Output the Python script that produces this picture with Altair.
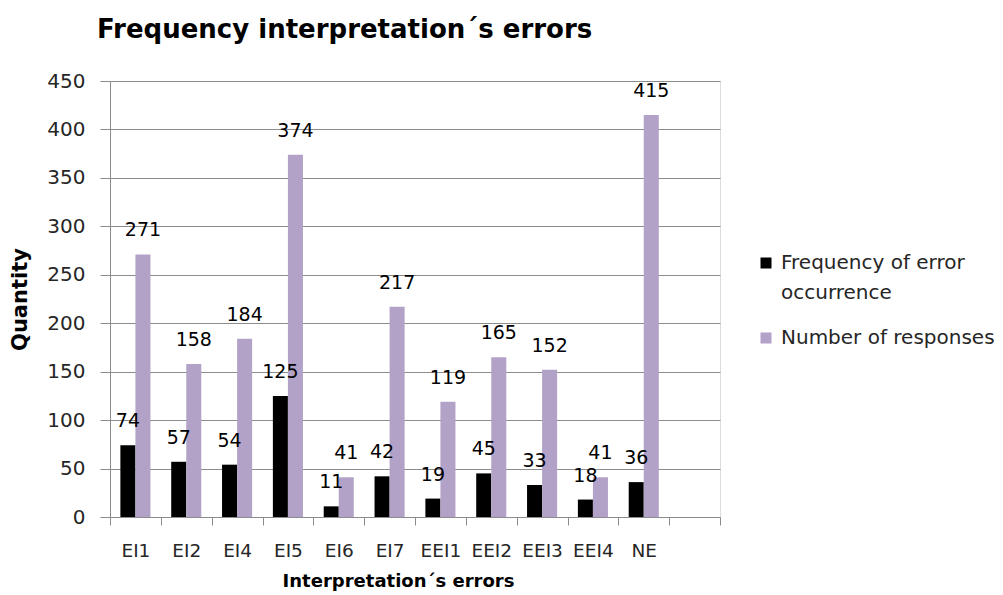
import altair as alt
import pandas as pd

categories = ["EI1", "EI2", "EI4", "EI5", "EI6", "EI7", "EEI1", "EEI2", "EEI3", "EEI4", "NE"]
freq = [74, 57, 54, 125, 11, 42, 19, 45, 33, 18, 36]
responses = [271, 158, 184, 374, 41, 217, 119, 165, 152, 41, 415]
series = ["Frequency of error occurrence", "Number of responses"]
colors = ["#000000", "#B3A2C7"]
y_ticks = list(range(0, 451, 50))

rows = []
for c, f, r in zip(categories, freq, responses):
    rows.append({"cat": c, "series": series[0], "value": f})
    rows.append({"cat": c, "series": series[1], "value": r})
df = pd.DataFrame(rows)

x_domain = categories + [" "]
FONT = "DejaVu Sans"
GRID = "#8c8c8c"
TXT = "#262626"

x_enc = alt.X(
    "cat:N",
    scale=alt.Scale(domain=x_domain, paddingInner=0, paddingOuter=0),
    axis=alt.Axis(
        title="Interpretation´s errors",
        labelAngle=0,
        tickBand="extent",
        tickSize=8,
        tickColor=GRID,
        domainColor=GRID,
        grid=False,
        labelFont=FONT,
        labelFontSize=18.5,
        labelColor=TXT,
        labelPadding=16,
        titleFont=FONT,
        titleFontSize=18,
        titleFontWeight="bold",
        titleColor="#000000",
        titleY=69,
        titleX=288,
        titleBaseline="alphabetic",
    ),
)
y_enc = alt.Y(
    "value:Q",
    scale=alt.Scale(domain=[0, 450], nice=False),
    axis=alt.Axis(
        title="Quantity",
        values=y_ticks,
        tickSize=10,
        tickColor=GRID,
        domainColor=GRID,
        gridColor=GRID,
        labelFont=FONT,
        labelFontSize=20,
        labelColor=TXT,
        labelPadding=15,
        titleFont=FONT,
        titleFontSize=21,
        titleFontWeight="bold",
        titleColor="#000000",
        titleAngle=270,
        titleX=-90,
        titleY=218,
        titleAlign="center",
        titleBaseline="middle",
    ),
)
xoff = alt.XOffset("series:N", scale=alt.Scale(domain=series, paddingInner=0, paddingOuter=0.69))

color = alt.Color(
    "series:N",
    scale=alt.Scale(domain=series, range=colors),
    legend=alt.Legend(
        title=None,
        orient="none",
        legendX=646,
        legendY=172,
        symbolType="square",
        symbolSize=121,
        symbolStrokeWidth=0,
        labelFont=FONT,
        labelFontSize=20,
        labelColor=TXT,
        labelLimit=300,
        labelOffset=5,
        rowPadding=25,
        labelExpr="datum.label == 'Frequency of error occurrence' ? ['Frequency of error', 'occurrence'] : datum.label",
    ),
)

base = alt.Chart(df).encode(x=x_enc, xOffset=xoff)
bars = base.mark_bar().encode(y=y_enc, color=color)
labels = base.mark_text(font=FONT, fontSize=19, color="#000000", dy=-18, baseline="alphabetic").encode(
    y=alt.Y("value:Q"), text=alt.Text("value:Q")
)

chart = (
    alt.layer(bars, labels)
    .properties(
        width=610,
        height=436,
        autosize=alt.AutoSizeParams(type="none"),
        padding={"left": 102, "top": 73, "right": 275, "bottom": 74},
        title=alt.TitleParams(
            "Frequency interpretation´s errors",
            anchor="start",
            frame="group",
            dx=-13,
            offset=28,
            font=FONT,
            fontSize=26,
            fontWeight="bold",
            color="#000000",
        ),
    )
    .configure_view(stroke=None)
    .configure(background="white", style={"guide-label": {"lineHeight": 30}})
)

chart.save("out.html", embed_options={"renderer": "svg", "actions": False})
